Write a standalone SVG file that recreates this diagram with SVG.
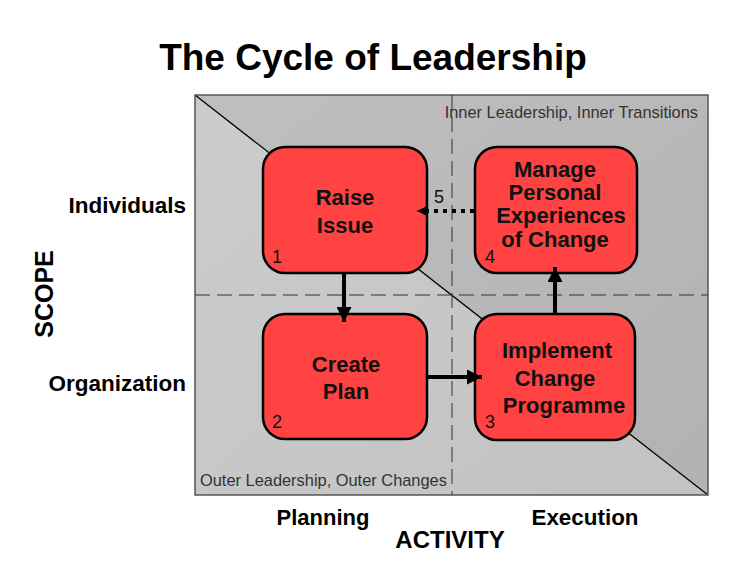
<svg xmlns="http://www.w3.org/2000/svg" width="750" height="563" viewBox="0 0 750 563">
<style>
.lbl{font-family:"Liberation Sans",Arial,sans-serif;font-weight:bold;fill:#000}
.box{fill:#ff4242;stroke:#000;stroke-width:2.5}
.bt{font-family:"Liberation Sans",Arial,sans-serif;font-weight:bold;font-size:22px;fill:#111;text-anchor:middle}
.num{font-family:"Liberation Sans",Arial,sans-serif;font-size:18px;fill:#111}
.zone{font-family:"Liberation Sans",Arial,sans-serif;font-size:16.4px;fill:#333}
.dash{stroke:#333;stroke-width:1;stroke-dasharray:15 7;fill:none}
.arr{stroke:#000;stroke-width:4;fill:none}
</style>
<defs>
<linearGradient id="gUp" x1="0" y1="0" x2="1" y2="1">
<stop offset="0" stop-color="#bfbfbf"/>
<stop offset="1" stop-color="#b2b2b2"/>
</linearGradient>
<linearGradient id="gLo" x1="0" y1="0" x2="1" y2="1">
<stop offset="0" stop-color="#cccccc"/>
<stop offset="1" stop-color="#c2c2c2"/>
</linearGradient>
<marker id="ah" markerUnits="userSpaceOnUse" markerWidth="15" markerHeight="15" refX="15" refY="7.5" orient="auto">
<path d="M0,0 L15,7.5 L0,15 z" fill="#000"/>
</marker>
<marker id="ahs" markerUnits="userSpaceOnUse" markerWidth="11" markerHeight="11" refX="11" refY="5.5" orient="auto">
<path d="M0,0 L11,5.5 L0,11 z" fill="#000"/>
</marker>
</defs>
<rect width="750" height="563" fill="#fff"/>
<text class="lbl" x="373" y="70" font-size="37" text-anchor="middle">The Cycle of Leadership</text>
<g id="background">
<polygon points="195,95 708,95 708,495" fill="url(#gUp)"/>
<polygon points="195,95 195,495 708,495" fill="url(#gLo)"/>
<line x1="195" y1="95" x2="708" y2="495" stroke="#000" stroke-width="1.3"/>
<rect x="195" y="95" width="513" height="400" fill="none" stroke="#555" stroke-width="1.5"/>
<line class="dash" x1="452" y1="95" x2="452" y2="495"/>
<line class="dash" x1="195" y1="295" x2="708" y2="295"/>
<text class="zone" x="698" y="118" text-anchor="end">Inner Leadership, Inner Transitions</text>
<text class="zone" x="200" y="486">Outer Leadership, Outer Changes</text>
</g>
<g id="axes">
<text class="lbl" x="186" y="213" font-size="22.5" text-anchor="end">Individuals</text>
<text class="lbl" x="186" y="391" font-size="22.5" text-anchor="end">Organization</text>
<text class="lbl" transform="translate(53,294) rotate(-90)" font-size="25" text-anchor="middle">SCOPE</text>
<text class="lbl" x="323" y="525" font-size="22" text-anchor="middle">Planning</text>
<text class="lbl" x="585" y="525" font-size="22.4" text-anchor="middle">Execution</text>
<text class="lbl" x="450" y="548" font-size="24" text-anchor="middle">ACTIVITY</text>
</g>
<g id="node1">
<rect class="box" x="263" y="147" width="164" height="126" rx="22"/>
<text class="bt" x="345" y="205">Raise</text>
<text class="bt" x="345" y="233">Issue</text>
<text class="num" x="272" y="263">1</text>
</g>
<g id="node2">
<rect class="box" x="263" y="314" width="164" height="125" rx="22"/>
<text class="bt" x="346" y="372">Create</text>
<text class="bt" x="346" y="399">Plan</text>
<text class="num" x="272" y="428">2</text>
</g>
<g id="node3">
<rect class="box" x="475" y="314" width="160" height="126" rx="22"/>
<text class="bt" x="557" y="358">Implement</text>
<text class="bt" x="555" y="386">Change</text>
<text class="bt" x="564" y="413">Programme</text>
<text class="num" x="485" y="428">3</text>
</g>
<g id="node4">
<rect class="box" x="475" y="147" width="162" height="126" rx="22"/>
<text class="bt" x="555" y="177">Manage</text>
<text class="bt" x="555" y="200">Personal</text>
<text class="bt" x="561" y="223">Experiences</text>
<text class="bt" x="555" y="247">of Change</text>
<text class="num" x="485" y="263">4</text>
</g>
<g id="connectors">
<line class="arr" x1="344" y1="273" x2="344" y2="322" marker-end="url(#ah)"/>
<line class="arr" x1="427" y1="377" x2="482" y2="377" marker-end="url(#ah)"/>
<line class="arr" x1="555" y1="314" x2="555" y2="267" marker-end="url(#ah)"/>
<line x1="474" y1="211" x2="428" y2="211" stroke="#000" stroke-width="4" stroke-dasharray="4 5"/>
<line x1="428" y1="211" x2="417" y2="211" stroke="#000" stroke-width="1" marker-end="url(#ahs)"/>
<text class="num" x="434" y="203">5</text>
</g>
</svg>
